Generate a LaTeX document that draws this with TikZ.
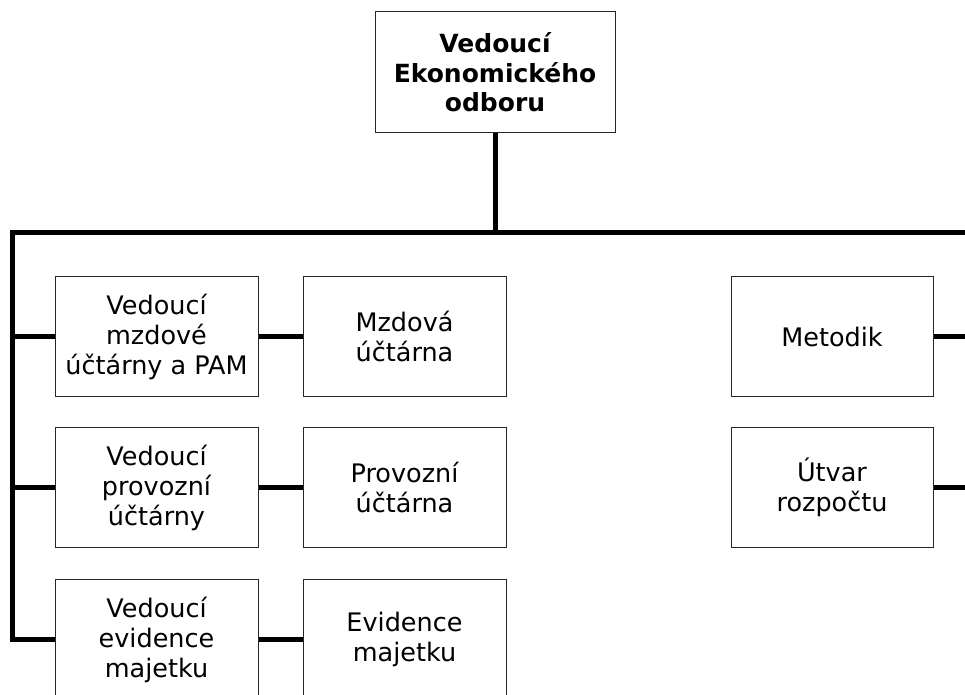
\documentclass[tikz,border=0pt]{standalone}
\usepackage{fontspec}
\setmainfont{DejaVu Sans}
\begin{document}
\begin{tikzpicture}[x=1pt,y=-1pt,
  box/.style={draw=black!85,line width=1pt,fill=white,rectangle,inner sep=0pt,
    minimum width=203pt,minimum height=120pt,align=center,
    font=\fontsize{25.5}{30}\selectfont},
  conn/.style={line width=5pt,black,line join=miter,line cap=butt}]
\useasboundingbox (0,0) rectangle (965,695);
\node[box,minimum width=240pt,minimum height=121pt,font=\fontsize{25}{29.5}\selectfont\bfseries] (top) at (495,72.5) {Vedoucí\\Ekonomického\\odboru};
\node[box] (a1) at (156.5,336.5) {Vedoucí\\mzdové\\účtárny a PAM};
\node[box] (a2) at (156.5,487.5) {Vedoucí\\provozní\\účtárny};
\node[box] (a3) at (156.5,639.5) {Vedoucí\\evidence\\majetku};
\node[box] (b1) at (404.5,336.5) {Mzdová\\účtárna};
\node[box] (b2) at (404.5,487.5) {Provozní\\účtárna};
\node[box] (b3) at (404.5,639.5) {Evidence\\majetku};
\node[box,minimum width=202pt] (c1) at (832,336.5) {Metodik};
\node[box,minimum width=202pt] (c2) at (832,487.5) {Útvar\\rozpočtu};
\coordinate (busL) at (12.5,232);
\coordinate (busR) at (970,232);
\coordinate (stubL) at (10,232);
\draw[conn] (top.south) -- (top.south |- busL);
\draw[conn] (busR) -- (busL) -- (busL |- a3.west) -- (a3.west);
\draw[conn] (stubL |- a1.west) -- (a1.west);
\draw[conn] (stubL |- a2.west) -- (a2.west);
\draw[conn] (a1.east) -- (b1.west);
\draw[conn] (a2.east) -- (b2.west);
\draw[conn] (a3.east) -- (b3.west);
\draw[conn] (c1.east) -- (c1.east -| busR);
\draw[conn] (c2.east) -- (c2.east -| busR);
\end{tikzpicture}
\end{document}
